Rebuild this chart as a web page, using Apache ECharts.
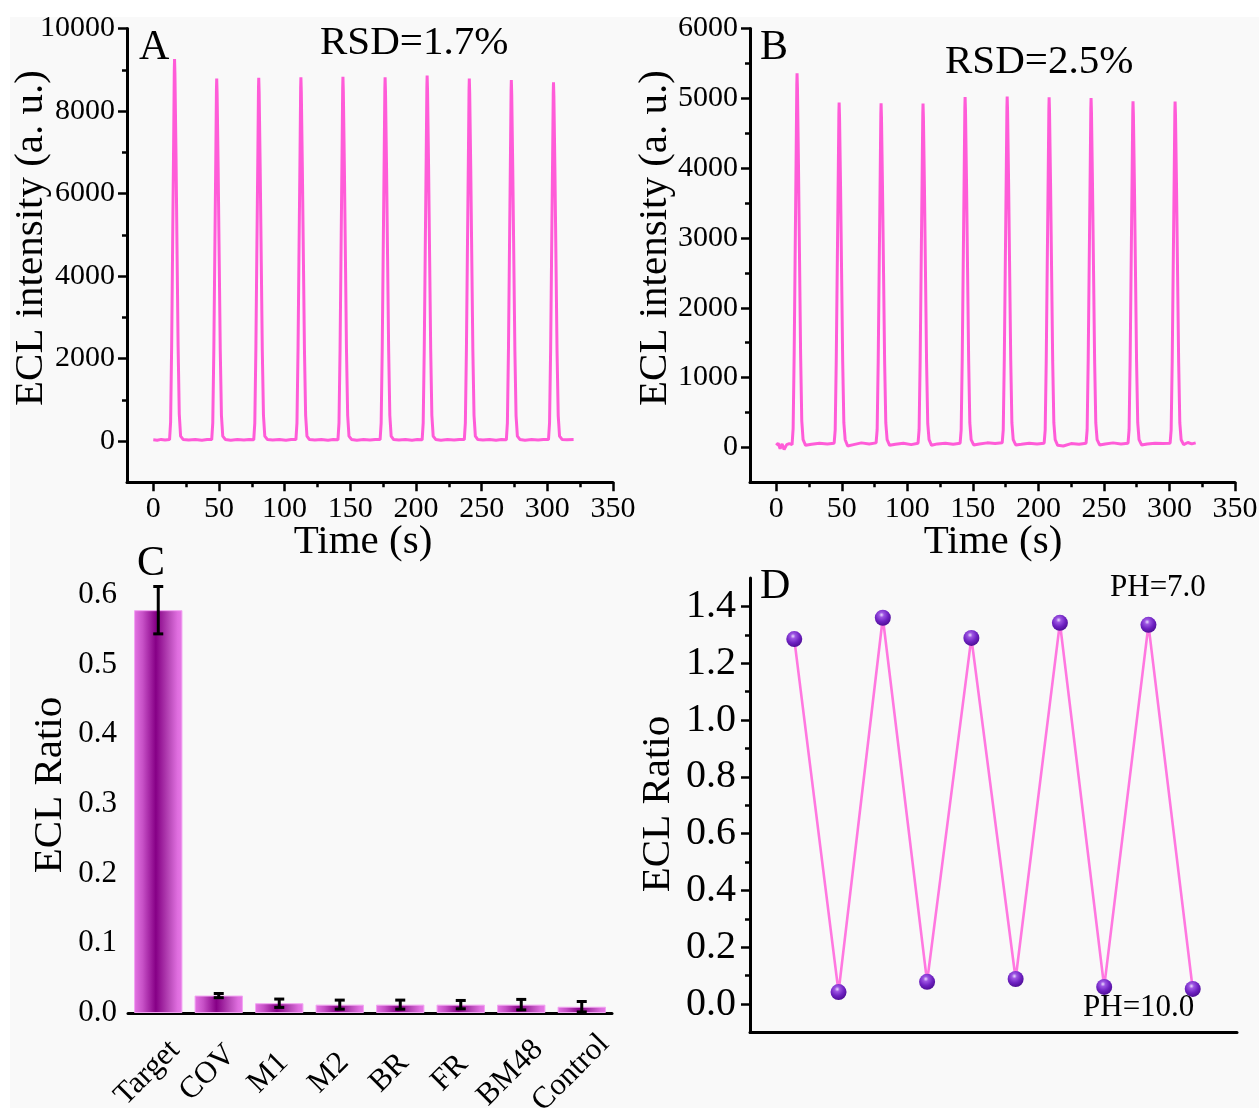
<!DOCTYPE html>
<html>
<head>
<meta charset="utf-8">
<script src="https://cdn.jsdelivr.net/npm/echarts@6/dist/echarts.min.js"></script>
<style>
html, body { margin: 0; padding: 0; background: #fff; }
#chart { width: 1259px; height: 1108px; }
</style>
</head>
<body>
<div id="chart"></div>
<script>
// ---- data ----
// A: ECL intensity (a.u.) vs time (s), ten pulses
const traceA = [
  [0, 30], [3, 20], [6, 40], [9, 25], [12.4, 35], [13.2, 460], [14.0, 2320], [14.7, 4630], [15.5, 7220], [16.0, 8980], [16.2, 9260], [16.5, 8890], [17.3, 6950], [18.1, 4630], [18.9, 2320], [19.8, 650], [20.8, 120], [22.7, 40],
  [27, 25], [32, 40], [37, 20], [41, 35],
  [44.5, 35], [45.3, 440], [46.1, 2200], [46.8, 4400], [47.6, 6860], [48.1, 8530], [48.3, 8790], [48.6, 8440], [49.4, 6590], [50.2, 4400], [51.0, 2200], [51.9, 620], [52.9, 120], [54.8, 40],
  [59, 20], [64, 35], [69, 25], [73, 40],
  [76.5, 30], [77.3, 440], [78.1, 2200], [78.8, 4410], [79.6, 6870], [80.1, 8550], [80.3, 8810], [80.6, 8460], [81.4, 6610], [82.2, 4410], [83.0, 2200], [83.9, 620], [84.9, 120], [86.8, 40],
  [91, 25], [96, 40], [101, 20], [105, 35],
  [108.6, 35], [109.4, 440], [110.2, 2210], [110.9, 4410], [111.7, 6880], [112.2, 8560], [112.4, 8820], [112.7, 8470], [113.5, 6620], [114.3, 4410], [115.1, 2210], [116.0, 620], [117.0, 120], [118.9, 35],
  [123, 25], [128, 40], [133, 20], [137, 35],
  [140.6, 30], [141.4, 440], [142.2, 2210], [142.9, 4420], [143.7, 6890], [144.2, 8570], [144.4, 8830], [144.7, 8480], [145.5, 6620], [146.3, 4420], [147.1, 2210], [148.0, 620], [149.0, 120], [150.9, 40],
  [155, 20], [160, 35], [165, 25], [169, 40],
  [172.7, 35], [173.5, 440], [174.3, 2210], [175.0, 4410], [175.8, 6880], [176.3, 8560], [176.5, 8820], [176.8, 8470], [177.6, 6620], [178.4, 4410], [179.2, 2210], [180.1, 620], [181.1, 120], [183.0, 35],
  [187, 25], [192, 40], [197, 20], [201, 35],
  [204.7, 30], [205.5, 440], [206.3, 2220], [207.0, 4430], [207.8, 6910], [208.3, 8590], [208.5, 8860], [208.8, 8510], [209.6, 6650], [210.4, 4430], [211.2, 2220], [212.1, 620], [213.1, 120], [215.0, 40],
  [219, 20], [224, 35], [229, 25], [233, 40],
  [236.8, 35], [237.6, 440], [238.4, 2200], [239.1, 4400], [239.9, 6860], [240.4, 8530], [240.6, 8790], [240.9, 8440], [241.7, 6590], [242.5, 4400], [243.3, 2200], [244.2, 620], [245.2, 120], [247.1, 35],
  [251, 25], [256, 40], [261, 20], [265, 35],
  [268.8, 30], [269.6, 440], [270.4, 2190], [271.1, 4380], [271.9, 6830], [272.4, 8490], [272.6, 8750], [272.9, 8400], [273.7, 6560], [274.5, 4380], [275.3, 2190], [276.2, 610], [277.2, 120], [279.1, 40],
  [283, 20], [288, 35], [293, 25], [297, 40],
  [300.9, 35], [301.7, 440], [302.5, 2180], [303.2, 4350], [304.0, 6790], [304.5, 8440], [304.7, 8700], [305.0, 8350], [305.8, 6530], [306.6, 4350], [307.4, 2180], [308.3, 610], [309.3, 120], [311.2, 40],
  [315, 30], [320, 35]
];

// B: ECL intensity (a.u.) vs time (s), ten pulses
const traceB = [
  [0, 30], [1.5, 60], [3, -20], [4.5, 50], [6, -30], [8, 40], [10, 55], [12.1, 40], [12.9, 270], [13.7, 1340], [14.4, 2680], [15.2, 4180], [15.7, 5200], [15.9, 5360], [16.2, 5150], [17.0, 4020], [17.8, 2680], [18.6, 1340], [19.5, 380], [20.5, 110], [22.4, 30],
  [27, 45], [33, 60], [39, 50],
  [44.2, 60], [45.0, 250], [45.8, 1240], [46.5, 2470], [47.3, 3850], [47.8, 4790], [48.0, 4940], [48.3, 4740], [49.1, 3710], [49.9, 2470], [50.7, 1240], [51.6, 350], [52.6, 110], [54.5, 20],
  [59, 40], [65, 65], [71, 50],
  [76.2, 65], [77.0, 250], [77.8, 1230], [78.5, 2470], [79.3, 3850], [79.8, 4780], [80.0, 4930], [80.3, 4730], [81.1, 3700], [81.9, 2470], [82.7, 1230], [83.6, 350], [84.6, 110], [86.5, 30],
  [91, 45], [97, 60], [103, 40],
  [108.2, 60], [109.0, 250], [109.8, 1230], [110.5, 2460], [111.3, 3840], [111.8, 4780], [112.0, 4925], [112.3, 4730], [113.1, 3690], [113.9, 2460], [114.7, 1230], [115.6, 340], [116.6, 110], [118.5, 30],
  [123, 50], [129, 60], [135, 45],
  [140.3, 60], [141.1, 250], [141.9, 1260], [142.6, 2510], [143.4, 3920], [143.9, 4870], [144.1, 5020], [144.4, 4820], [145.2, 3770], [146.0, 2510], [146.8, 1260], [147.7, 350], [148.7, 110], [150.6, 35],
  [155, 50], [161, 65], [167, 55],
  [172.4, 65], [173.2, 250], [174.0, 1260], [174.7, 2510], [175.5, 3920], [176.0, 4870], [176.2, 5025], [176.5, 4820], [177.3, 3770], [178.1, 2510], [178.9, 1260], [179.8, 350], [180.8, 110], [182.7, 35],
  [187, 45], [193, 60], [199, 50],
  [204.4, 60], [205.2, 250], [206.0, 1250], [206.7, 2510], [207.5, 3910], [208.0, 4860], [208.2, 5015], [208.5, 4810], [209.3, 3760], [210.1, 2510], [210.9, 1250], [211.8, 350], [212.8, 110], [214.7, 30],
  [219, 20], [225, 55], [231, 45],
  [236.4, 60], [237.2, 250], [238.0, 1250], [238.7, 2500], [239.5, 3900], [240.0, 4850], [240.2, 5005], [240.5, 4800], [241.3, 3750], [242.1, 2500], [242.9, 1250], [243.8, 350], [244.8, 110], [246.7, 35],
  [251, 50], [257, 65], [263, 50],
  [268.4, 60], [269.2, 250], [270.0, 1240], [270.7, 2480], [271.5, 3870], [272.0, 4810], [272.2, 4960], [272.5, 4760], [273.3, 3720], [274.1, 2480], [274.9, 1240], [275.8, 350], [276.8, 110], [278.7, 35],
  [283, 50], [289, 60], [295, 55],
  [300.5, 60], [301.3, 250], [302.1, 1240], [302.8, 2480], [303.6, 3860], [304.1, 4810], [304.3, 4955], [304.6, 4760], [305.4, 3720], [306.2, 2480], [307.0, 1240], [307.9, 350], [308.9, 110], [310.8, 40],
  [314, 70], [317, 50], [320, 65]
];

const timeTicks = [0, 50, 100, 150, 200, 250, 300, 350];
const timeMinor = [25, 75, 125, 175, 225, 275, 325];
const ticksA = [0, 2000, 4000, 6000, 8000, 10000];
const minorA = [1000, 3000, 5000, 7000, 9000];
const ticksB = [0, 1000, 2000, 3000, 4000, 5000, 6000];
const minorB = [500, 1500, 2500, 3500, 4500, 5500];

// C: selectivity
const categories = ['Target', 'COV', 'M1', 'M2', 'BR', 'FR', 'BM48', 'Control'];
const ratioC = [0.578, 0.025, 0.014, 0.012, 0.012, 0.012, 0.012, 0.009];
const errC = [0.034, 0.003, 0.006, 0.0065, 0.0065, 0.006, 0.0075, 0.0075];
const ticksC = [0, 0.1, 0.2, 0.3, 0.4, 0.5, 0.6];
const minorC = [0.05, 0.15, 0.25, 0.35, 0.45, 0.55];

// D: pH switching
const cycleD = [1, 2, 3, 4, 5, 6, 7, 8, 9, 10];
const ratioD = [1.285, 0.042, 1.36, 0.078, 1.289, 0.088, 1.342, 0.06, 1.335, 0.053];
const ticksD = [0, 0.2, 0.4, 0.6, 0.8, 1.0, 1.2, 1.4];
const minorD = [0.1, 0.3, 0.5, 0.7, 0.9, 1.1, 1.3];

// ---- helpers ----
const FONT = '"Liberation Serif", "Times New Roman", serif';
const BLACK = '#000';

function mainAxis (grid, opt) {
  return Object.assign({
    gridIndex: grid,
    type: 'value',
    splitLine: { show: false },
    axisLine: { onZero: false, lineStyle: { color: BLACK, width: 3 } },
    axisTick: { length: 9, lineStyle: { color: BLACK, width: 2.5 } },
    axisLabel: { color: BLACK, fontFamily: FONT, fontSize: 30, margin: 12 }
  }, opt)
}
// second axis on the same grid, only for the short minor ticks
function minorAxis (grid, opt) {
  return Object.assign({
    gridIndex: grid,
    type: 'value',
    splitLine: { show: false },
    axisLine: { show: false, onZero: false },
    axisLabel: { show: false },
    axisTick: { length: 5, lineStyle: { color: BLACK, width: 2.5 } }
  }, opt)
}
function lab (size, values, margin, fmt) {
  return { color: BLACK, fontFamily: FONT, fontSize: size, margin: margin, customValues: values, formatter: fmt }
}
function ticks (values, len) {
  return { length: len, lineStyle: { color: BLACK, width: 2.5 }, customValues: values }
}
function txt (x, y, text, size, rot, align) {
  return {
    type: 'text', x: x, y: y, rotation: rot || 0,
    style: { text: text, fill: BLACK, fontFamily: FONT, fontSize: size, align: align || 'left', verticalAlign: 'middle' }
  }
}
const plain = v => String(v)
const oneDec = v => v.toFixed(1)

const barGradient = new echarts.graphic.LinearGradient(0, 0, 1, 0, [
  { offset: 0, color: '#e574e5' },
  { offset: 0.18, color: '#c650c6' },
  { offset: 0.45, color: '#860086' },
  { offset: 0.75, color: '#bd4fbd' },
  { offset: 0.9, color: '#df6edf' },
  { offset: 1, color: '#e679e6' }
]);
const ballGradient = new echarts.graphic.RadialGradient(0.42, 0.32, 0.7, [
  { offset: 0, color: '#eadcff' },
  { offset: 0.22, color: '#9d55e2' },
  { offset: 0.6, color: '#6f22c2' },
  { offset: 1, color: '#4c0c92' }
]);

let myChart = echarts.init(document.getElementById('chart'));
myChart.setOption({
  animation: false,
  backgroundColor: '#f9f9f9',
  grid: [
    { left: 127, top: 28.6, width: 486, height: 453.7, outerBoundsMode: 'none' },   // A
    { left: 750, top: 28.6, width: 485, height: 453.7, outerBoundsMode: 'none' },   // B
    { left: 128, top: 560, width: 484, height: 453, outerBoundsMode: 'none' },      // C
    { left: 750, top: 578, width: 487, height: 454.4, outerBoundsMode: 'none' }     // D
  ],
  xAxis: [
    mainAxis(0, { min: -20, max: 350, axisLabel: lab(30, timeTicks, 12, plain), axisTick: ticks(timeTicks, 9) }),
    minorAxis(0, { min: -20, max: 350, position: 'bottom', axisTick: ticks(timeMinor, 5) }),
    mainAxis(1, { min: -20, max: 350, axisLabel: lab(30, timeTicks, 12, plain), axisTick: ticks(timeTicks, 9) }),
    minorAxis(1, { min: -20, max: 350, position: 'bottom', axisTick: ticks(timeMinor, 5) }),
    {
      gridIndex: 2,
      type: 'category',
      data: categories,
      boundaryGap: true,
      axisLine: { lineStyle: { color: BLACK, width: 3 } },
      axisTick: { alignWithLabel: true, length: 9, lineStyle: { color: BLACK, width: 2.5 } },
      axisLabel: {
        color: BLACK, fontFamily: FONT, fontSize: 31, rotate: 45, interval: 0,
        align: 'center', verticalAlign: 'middle', padding: [0, 31, 0, 0], margin: 49
      }
    },
    {
      gridIndex: 2,
      type: 'category',
      data: categories,
      position: 'bottom',
      boundaryGap: true,
      axisLine: { show: false },
      axisLabel: { show: false },
      axisTick: { alignWithLabel: false, interval: 0, length: 5, lineStyle: { color: BLACK, width: 2.5 } }
    },
    mainAxis(3, { min: 0, max: 11, axisTick: { show: false }, axisLabel: { show: false } })
  ],
  yAxis: [
    mainAxis(0, { min: -1000, max: 10000, axisLabel: lab(30, ticksA, 12, plain), axisTick: ticks(ticksA, 9) }),
    minorAxis(0, { min: -1000, max: 10000, position: 'left', axisTick: ticks(minorA, 5) }),
    mainAxis(1, { min: -500, max: 6000, axisLabel: lab(30, ticksB, 12, plain), axisTick: ticks(ticksB, 9) }),
    minorAxis(1, { min: -500, max: 6000, position: 'left', axisTick: ticks(minorB, 5) }),
    mainAxis(2, { min: 0, max: 0.65, axisLabel: lab(31, ticksC, 11, oneDec), axisTick: ticks(ticksC, 9) }),
    minorAxis(2, { min: 0, max: 0.65, position: 'left', axisTick: ticks(minorC, 5) }),
    mainAxis(3, { min: -0.1, max: 1.5, axisLabel: lab(40, ticksD, 14, oneDec), axisTick: ticks(ticksD, 9) }),
    minorAxis(3, { min: -0.1, max: 1.5, position: 'left', axisTick: ticks(minorD, 5) })
  ],
  series: [
    {
      type: 'line', xAxisIndex: 0, yAxisIndex: 0, data: traceA,
      showSymbol: false, symbol: 'none',
      lineStyle: { color: '#ff5cd8', width: 3 }
    },
    {
      type: 'line', xAxisIndex: 2, yAxisIndex: 2, data: traceB,
      showSymbol: false, symbol: 'none',
      lineStyle: { color: '#ff5cd8', width: 3 }
    },
    {
      type: 'bar', xAxisIndex: 4, yAxisIndex: 4, data: ratioC,
      barWidth: '80%',
      itemStyle: { color: barGradient, borderColor: '#f2a4f2', borderWidth: 1 }
    },
    {
      // error bars
      type: 'custom', xAxisIndex: 4, yAxisIndex: 4,
      data: ratioC.map((v, i) => [i, v - errC[i], v + errC[i]]),
      z: 5,
      renderItem: function (params, api) {
        let lo = api.coord([api.value(0), api.value(1)])
        let hi = api.coord([api.value(0), api.value(2)])
        let w = 5
        let st = { stroke: BLACK, lineWidth: 3 }
        return {
          type: 'group',
          children: [
            { type: 'line', shape: { x1: hi[0], y1: hi[1], x2: lo[0], y2: lo[1] }, style: st },
            { type: 'line', shape: { x1: hi[0] - w, y1: hi[1], x2: hi[0] + w, y2: hi[1] }, style: st },
            { type: 'line', shape: { x1: lo[0] - w, y1: lo[1], x2: lo[0] + w, y2: lo[1] }, style: st }
          ]
        }
      }
    },
    {
      type: 'line', xAxisIndex: 6, yAxisIndex: 6,
      data: cycleD.map((c, i) => [c, ratioD[i]]),
      symbol: 'circle', symbolSize: 16,
      itemStyle: { color: ballGradient },
      lineStyle: { color: '#ff78e0', width: 2.6 }
    }
  ],
  graphic: [
    // white margin strips of the original figure
    { type: 'rect', shape: { x: 0, y: 0, width: 1259, height: 17 }, style: { fill: '#fff' }, z: -10 },
    { type: 'rect', shape: { x: 0, y: 0, width: 10, height: 1108 }, style: { fill: '#fff' }, z: -10 },
    // panel letters and notes
    txt(139, 48, 'A', 42),
    txt(320, 43, 'RSD=1.7%', 41),
    txt(760, 48, 'B', 42),
    txt(945, 62, 'RSD=2.5%', 41),
    txt(137, 564, 'C', 42),
    txt(760, 587, 'D', 42),
    txt(1110, 588, 'PH=7.0', 31),
    txt(1083, 1008, 'PH=10.0', 31),
    // axis titles
    txt(363, 542, 'Time (s)', 41, 0, 'center'),
    txt(993, 542, 'Time (s)', 41, 0, 'center'),
    txt(31, 238, 'ECL intensity (a. u.)', 41, Math.PI / 2, 'center'),
    txt(655, 238, 'ECL intensity (a. u.)', 41, Math.PI / 2, 'center'),
    txt(50, 785, 'ECL Ratio', 41, Math.PI / 2, 'center'),
    txt(658, 804, 'ECL Ratio', 41, Math.PI / 2, 'center')
  ]
});
window.addEventListener('resize', function () {
  myChart.resize()
});
</script>
</body>
</html>
